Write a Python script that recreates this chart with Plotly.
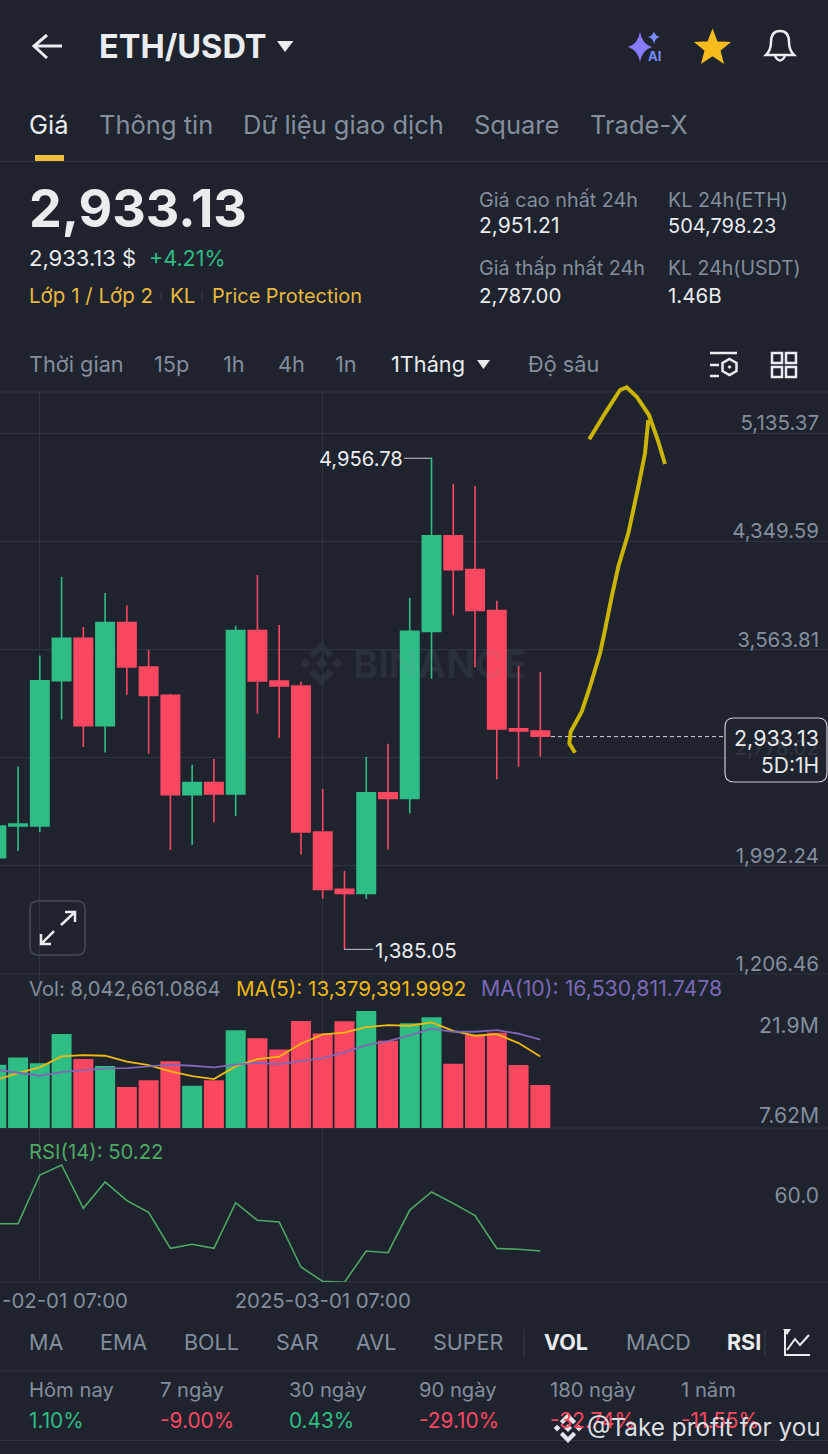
import plotly.graph_objects as go

# monthly candles, values
months = ['2023-12-01 07:00', '2024-01-01 07:00', '2024-02-01 07:00', '2024-03-01 07:00', '2024-04-01 07:00',
          '2024-05-01 07:00', '2024-06-01 07:00', '2024-07-01 07:00', '2024-08-01 07:00', '2024-09-01 07:00',
          '2024-10-01 07:00', '2024-11-01 07:00', '2024-12-01 07:00', '2025-01-01 07:00', '2025-02-01 07:00',
          '2025-03-01 07:00', '2025-04-01 07:00', '2025-05-01 07:00', '2025-06-01 07:00', '2025-07-01 07:00',
          '2025-08-01 07:00', '2025-09-01 07:00', '2025-10-01 07:00', '2025-11-01 07:00', '2025-12-01 07:00',
          '2026-01-01 07:00']
opens = [2052, 2281, 2281, 3336, 3645, 3010, 3759, 3436, 3230, 2509, 2597, 2514, 3700, 3334, 3298, 2238, 1821, 1791,
         2523, 2482, 3695, 4389, 4143, 3846, 2987, 2971]
highs = [2281, 2714, 3520, 4091, 3726, 3974, 3883, 3559, 3240, 2727, 2768, 3736, 4104, 3741, 3329, 2550, 1954, 2785,
         2878, 3938, 4956.78, 4766, 4750, 3917, 3443, 3400]
lows = [2052, 2100, 2238, 3054, 2855, 2815, 3235, 2807, 2107, 2146, 2307, 2354, 3098, 2920, 2075, 1753, 1385.05, 1751,
        2111, 2373, 3351, 3810, 3433, 2621, 2711, 2785]
closes = [2281, 2296, 3336, 3645, 3010, 3759, 3436, 3230, 2509, 2597, 2514, 3700, 3334, 3298, 2238, 1821, 1791, 2523,
          2482, 3695, 4389, 4143, 3846, 2987, 2971, 2933.13]

volumes = [11.84, 13.2, 12.1, 17.6, 12.9, 11.6, 7.67, 8.92, 12.5, 7.92, 8.92, 18.3, 16.8, 14.7, 20.0, 17.7, 19.95,
           21.9, 16.3, 19.6, 20.7, 12.0, 17.45, 17.8, 11.8, 8.04]
ma5 = [9.03, 10.28, 11.34, 13.39, 13.64, 13.52, 12.4, 11.77, 10.59, 9.72, 9.16, 11.53, 12.9, 13.33, 15.76, 17.5,
       17.82, 18.88, 19.25, 19.13, 19.75, 18.19, 17.26, 17.57, 15.89, 13.38]
ma10 = [10.9, 10.28, 9.78, 10.47, 10.78, 11.15, 11.21, 11.53, 11.84, 11.65, 11.34, 11.84, 12.21, 11.96, 12.58, 13.08,
        14.14, 15.51, 16.26, 17.32, 18.57, 18.0, 18.0, 18.32, 17.63, 16.53]
rsi = [55.08, 55.08, 63.74, 65.52, 57.81, 62.5, 59.17, 57.1, 50.69, 51.41, 50.69, 58.82, 55.68, 55.38, 47.37, 44.82,
       44.65, 50.22, 49.92, 57.51, 60.72, 58.7, 56.51, 50.69, 50.52, 50.22]

price_ticks = [5135.37, 4349.59, 3563.81, 2778.02, 1992.24, 1206.46]
price_tick_labels = ['5,135.37', '4,349.59', '3,563.81', '2,778.02', '1,992.24', '1,206.46']
time_ticks = ['2024-02-01 07:00', '2025-03-01 07:00']
time_tick_labels = ['', '2025-03-01 07:00']

tabs = ['Giá', 'Thông tin', 'Dữ liệu giao dịch', 'Square', 'Trade-X']
periods = ['Thời gian', '15p', '1h', '4h', '1n', '1Tháng', 'Độ sâu']
indicators = ['MA', 'EMA', 'BOLL', 'SAR', 'AVL', 'SUPER', 'VOL', 'MACD', 'RSI']
stat_names = ['Hôm nay', '7 ngày', '30 ngày', '90 ngày', '180 ngày', '1 năm']
stat_values = ['1.10%', '-9.00%', '0.43%', '-29.10%', '-32.74%', '-11.55%']

W, H = 828, 1454
BG = '#1E232E'
GRID = '#2E3440'
GRAY = '#848E9C'
WHITE = '#EAECEF'
GREEN = '#2EBD85'
RED = '#FB4760'
GOLD = '#F0B90B'
FONT = 'Inter'

colors = [GREEN if c >= o else RED for o, c in zip(opens, closes)]


def fy(y):
    # small stretch, the render came out about 2px short at the bottom
    return 1 - y * 1.0014 / H


def svg(path):
    # pixel path -> paper coordinates
    out, is_x = [], True
    for tok in path.split():
        if tok.isalpha():
            out.append(tok)
            is_x = True
        else:
            out.append(f'{float(tok) / W:.5f}' if is_x else f'{fy(float(tok)):.5f}')
            is_x = not is_x
    return ' '.join(out)


shapes = []
annotations = []


def draw(path, line=None, fill=None, width=2.0, layer='above', dash=None):
    shapes.append(dict(type='path', path=svg(path), xref='paper', yref='paper', layer=layer,
                       fillcolor=fill or 'rgba(0,0,0,0)',
                       line=dict(color=line or 'rgba(0,0,0,0)', width=width if line else 0, dash=dash)))


def text(x, y, s, size=20, color=GRAY, anchor='left'):
    dx = {'left': -1.5, 'right': 1.5, 'center': 0}[anchor]
    annotations.append(dict(x=(x + dx) / W, y=fy(y), xref='paper', yref='paper', text=s, showarrow=False,
                            xanchor=anchor, yanchor='middle', borderpad=0,
                            font=dict(family=FONT, size=size, color=color)))


def logo(cx, cy, r, color, layer='above'):
    k = r / 22
    pts = [[(0, -22), (12, -10), (7.5, -5.5), (0, -13), (-7.5, -5.5), (-12, -10)],
           [(0, 22), (12, 10), (7.5, 5.5), (0, 13), (-7.5, 5.5), (-12, 10)],
           [(0, -6), (6, 0), (0, 6), (-6, 0)],
           [(-16, -5), (-11, 0), (-16, 5), (-21, 0)],
           [(16, -5), (21, 0), (16, 5), (11, 0)]]
    for poly in pts:
        coords = [f'{cx + a * k} {cy + b * k}' for a, b in poly]
        draw('M ' + ' L '.join(coords) + ' Z', fill=color, layer=layer)


fig = go.Figure()

fig.add_trace(go.Candlestick(x=months, open=opens, high=highs, low=lows, close=closes, xaxis='x', yaxis='y',
                             increasing=dict(line=dict(color=GREEN, width=1.6), fillcolor=GREEN),
                             decreasing=dict(line=dict(color=RED, width=1.6), fillcolor=RED),
                             whiskerwidth=0, hoverinfo='skip', showlegend=False))
fig.add_trace(go.Bar(x=months, y=volumes, marker=dict(color=colors, line=dict(width=0)), xaxis='x2', yaxis='y2',
                     hoverinfo='skip', showlegend=False))
fig.add_trace(go.Scatter(x=months, y=ma5, mode='lines', line=dict(color='#F0B90B', width=1.8), xaxis='x2', yaxis='y2',
                         hoverinfo='skip', showlegend=False))
fig.add_trace(go.Scatter(x=months, y=ma10, mode='lines', line=dict(color='#8166B8', width=1.8), xaxis='x2', yaxis='y2',
                         hoverinfo='skip', showlegend=False))
fig.add_trace(go.Scatter(x=months, y=rsi, mode='lines', line=dict(color='#4FA864', width=1.6), xaxis='x3', yaxis='y3',
                         hoverinfo='skip', showlegend=False))

# header
draw('M 62 46 L 34 46 M 47 35 L 34 46 L 47 58', line=WHITE, width=3)
text(99, 46.5, '<b>ETH/USDT</b>', 32.5, WHITE)
draw('M 277 41 L 293.5 41 L 285 52 Z', fill=WHITE)
draw('M 640 32 Q 642 44 652 47 Q 642 50 640 62 Q 638 50 628 47 Q 638 44 640 32 Z', fill='#8A7CFF')
draw('M 654 31 Q 655 36 660 37 Q 655 38 654 44 Q 653 38 648 37 Q 653 36 654 31 Z', fill='#7B8CFF')
text(654.5, 56, '<b>AI</b>', 13, '#7B8CFF', 'center')
draw('M 712.5 30.5 L 716.9 41.9 L 729.1 42.6 L 719.6 50.3 L 722.8 62.2 L 712.5 55.5 L 702.2 62.2 L 705.4 50.3 '
     'L 695.9 42.6 L 708.1 41.9 Z', fill='#F5BC1C', line='#F5BC1C', width=1.5)
draw('M 766 55 Q 771 50 771 42 Q 771 31 780 31 Q 789 31 789 42 Q 789 50 794 55 Z', line=WHITE, width=2.5)
draw('M 775 56 Q 780 65 785 56', line=WHITE, width=2.5)

# tabs
for x, s, c in zip([29, 99, 243, 474, 590], tabs, [WHITE, GRAY, GRAY, GRAY, GRAY]):
    text(x, 124.5, s, 25.5, c)
draw('M 35 155 L 64 155 L 64 161 L 35 161 Z', fill='#F0C040')
draw('M 0 161.5 L 828 161.5', line=GRID, width=1)

# price block
text(29, 208.5, '<b>2,933.13</b>', 52, WHITE)
text(29, 258, '2,933.13 $', 22, WHITE)
text(149, 258, '+4.21%', 21.5, GREEN)
text(29, 295.5, 'Lớp 1 / Lớp 2', 20.5, '#E8B93D')
text(170, 295.5, 'KL', 20.5, '#E8B93D')
text(212, 295.5, 'Price Protection', 19.9, '#E8B93D')
draw('M 161 291 L 161 301 M 202 291 L 202 301', line=GRID, width=1.5)
text(479, 199.5, 'Giá cao nhất 24h', 19.8)
text(479, 225.5, '2,951.21', 21, WHITE)
text(668, 199.5, 'KL 24h(ETH)', 19.8)
text(668, 225.5, '504,798.23', 20, WHITE)
text(479, 268, 'Giá thấp nhất 24h', 19.8)
text(479, 295.5, '2,787.00', 20.5, WHITE)
text(668, 268, 'KL 24h(USDT)', 19.5)
text(668, 295.5, '1.46B', 20.5, WHITE)

# period row
for x, s, c in zip([29, 154, 223, 278, 335, 391, 528], periods, [GRAY] * 5 + [WHITE, GRAY]):
    text(x, 363.5, s, 21.7, c)
draw('M 477 360 L 490 360 L 483.5 369 Z', fill=WHITE)
draw('M 710 353 L 737 353 M 710 365 L 719 365 M 710 376 L 719 376', line=WHITE, width=2.5)
draw('M 729.5 359 L 736.5 363 L 736.5 371 L 729.5 375 L 722.5 371 L 722.5 363 Z', line=WHITE, width=2.5)
draw('M 729.5 365 L 731.5 367 L 729.5 369 L 727.5 367 Z', fill=WHITE)
for x0, y0 in [(772, 353), (786, 353), (772, 367), (786, 367)]:
    draw(f'M {x0} {y0} L {x0 + 10} {y0} L {x0 + 10} {y0 + 10} L {x0} {y0 + 10} Z', line=WHITE, width=2.5)

# pane borders
for y in [392, 974, 1128, 1282]:
    draw(f'M 0 {y} L 828 {y}', line=GRID, width=1, layer='below')

# watermark
logo(321.5, 663.5, 22, '#2B313C', layer='below')
text(353, 664, '<b>BINANCE</b>', 38, 'rgba(132,142,156,0.13)')

# high / low labels
draw('M 404 458.3 L 431 458.3', line='#A9AEB6', width=1.2)
text(402, 458, '4,956.78', 20.2, WHITE, 'right')
draw('M 344 949.4 L 373 949.4', line='#A9AEB6', width=1.2)
text(375, 950.5, '1,385.05', 20.5, WHITE)

# expand button
draw('M 38 901 L 77 901 Q 85 901 85 909 L 85 947 Q 85 955 77 955 L 38 955 Q 30 955 30 947 L 30 909 Q 30 901 38 901 Z',
     line='#3A404C', width=2)
draw('M 61 925 L 75 912 M 65 912 L 75 912 L 75 922 M 54 931 L 41 944 M 41 934 L 41 944 L 51 944', line=WHITE, width=2.5)

# last price line and box
draw('M 551 736.6 L 724 736.6', line='#D5D8DC', width=1, dash='4px,3px')
draw('M 734 718 L 818 718 Q 827 718 827 727 L 827 773 Q 827 782 818 782 L 734 782 Q 725 782 725 773 L 725 727 '
     'Q 725 718 734 718 Z', line='#C7CCD4', fill='rgba(30,35,46,0.82)', width=1.2)
text(818, 738, '2,933.13', 21.5, WHITE, 'right')
text(818, 765, '5D:1H', 21, WHITE, 'right')

# hand drawn arrow
arrow_color = '#C9B400'
draw('M 575 752.7 L 569.3 743.3 L 570.7 731.7 L 581.7 711.7 L 590 686.7 L 600 653.3 L 605 630 L 611.7 596.7 '
     'L 618.3 566.7 L 628.3 533.3 L 638.3 486.7 L 645 453.3 L 648.3 420', line=arrow_color, width=4)
draw('M 589.3 439.3 L 605 413.3 L 620 390 L 626.7 387.3 L 636.7 396.7 L 649 415 L 658.3 441.7 L 665 464',
     line=arrow_color, width=4)

# volume pane text
text(29, 988, 'Vol: 8,042,661.0864', 20.2)
text(236, 988, 'MA(5): 13,379,391.9992', 20.6, '#F0B90B')
text(481, 988, 'MA(10): 16,530,811.7478', 21.3, '#7B68B8')
text(818, 1024.5, '21.9M', 21.2, GRAY, 'right')
text(818, 1114.5, '7.62M', 21.2, GRAY, 'right')
text(29, 1151.5, 'RSI(14): 50.22', 20.3, '#4FA864')

# clipped time label at the left edge
text(127, 1300.5, '-02-01 07:00', 20.4, GRAY, 'right')

# indicator row
ind_x = [29, 100, 184, 276, 356, 433, 544, 626, 727]
for x, s in zip(ind_x, indicators):
    text(x, 1341.5, f'<b>{s}</b>' if s in ('VOL', 'RSI') else s, 21.5, WHITE if s in ('VOL', 'RSI') else GRAY)
draw('M 524 1329 L 524 1357 M 765 1329 L 765 1357', line=GRID, width=1.5)
draw('M 785 1331 L 785 1355 L 810 1355', line=WHITE, width=2)
draw('M 787 1350 L 795 1339 L 800 1345 L 809 1335', line=WHITE, width=2)
draw('M 783 1329 L 791 1329 L 787 1335 Z', fill=WHITE)
draw('M 0 1371 L 828 1371 M 0 1440.5 L 828 1440.5', line=GRID, width=1)

# stats row
stat_x = [29, 160, 289, 419.5, 550, 681]
for x, name, val in zip(stat_x, stat_names, stat_values):
    text(x, 1389.5, name, 20.2)
    text(x, 1420.5, val, 20.8, RED if val.startswith('-') else GREEN)

# user watermark
logo(568, 1428, 15, '#E4E6EA')
text(587, 1427, '@Take profit for you', 24.3, '#DDDFE3')

x_range = [0.17, 38.22]
axis_x = dict(type='category', categoryorder='array', categoryarray=months, range=x_range, tickmode='array',
              tickvals=time_ticks, ticktext=time_tick_labels, showgrid=True, gridcolor=GRID, gridwidth=1,
              zeroline=False, showline=False, ticks='', showticklabels=False, fixedrange=True, automargin=False)

fig.update_layout(
    width=W, height=H, autosize=False, margin=dict(l=0, r=0, t=0, b=0, pad=0),
    paper_bgcolor=BG, plot_bgcolor='rgba(0,0,0,0)', font=dict(family=FONT, color=GRAY, size=20),
    boxgap=0.155, boxgroupgap=0, bargap=0.08, showlegend=False, shapes=shapes, annotations=annotations,
    xaxis=dict(axis_x, domain=[0, 1], anchor='y', rangeslider=dict(visible=False)),
    xaxis2=dict(axis_x, domain=[0, 1], anchor='y2'),
    xaxis3=dict(axis_x, domain=[0, 1], anchor='y3', showticklabels=True, ticklabelstandoff=5,
                tickfont=dict(family=FONT, size=20.4, color=GRAY)),
    yaxis=dict(domain=[fy(974), fy(392)], anchor='x', side='right', range=[1206.46, 5433.1], tickmode='array',
               tickvals=price_ticks, ticktext=price_tick_labels, showgrid=True, gridcolor=GRID, gridwidth=1,
               zeroline=False, ticklabelposition='inside', ticklabeloverflow='allow', ticklabelstandoff=6,
               ticklabelshift=-10, tickfont=dict(family=FONT, size=20.5, color=GRAY), fixedrange=True),
    yaxis2=dict(domain=[fy(1128), fy(974)], anchor='x2', side='right', range=[0, 28.8], showgrid=False,
                zeroline=False, showticklabels=False, fixedrange=True),
    yaxis3=dict(domain=[fy(1282), fy(1128)], anchor='x3', side='right', range=[44.7, 72.1], tickmode='array',
                tickvals=[60], ticktext=['60.0'], showgrid=False, zeroline=False, ticklabelposition='inside',
                ticklabelstandoff=6, tickfont=dict(family=FONT, size=21, color=GRAY), fixedrange=True),
)

fig.write_html('out.html', config=dict(displayModeBar=False), post_script="document.body.style.margin='0'")
